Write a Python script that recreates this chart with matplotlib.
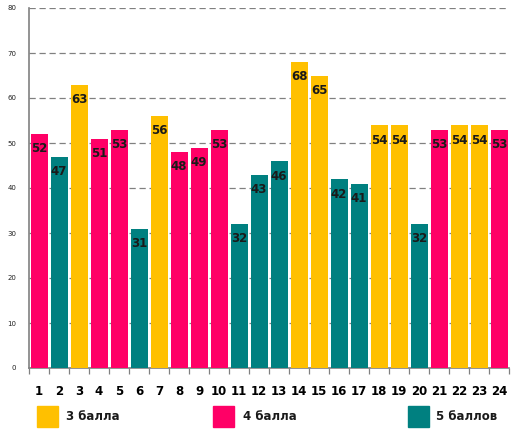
import matplotlib.pyplot as plt
from matplotlib.patches import Rectangle

# data
students = list(range(1, 25))
scores = [52, 47, 63, 51, 53, 31, 56, 48, 49, 53, 32, 43, 46, 68, 65, 42, 41, 54, 54, 32, 53, 54, 54, 53]
grades = [4, 5, 3, 4, 4, 5, 3, 4, 4, 4, 5, 5, 5, 3, 3, 5, 5, 3, 3, 5, 4, 3, 3, 4]
legend_labels = {3: '3 балла', 4: '4 балла', 5: '5 баллов'}
colors = {3: '#FFC000', 4: '#FF0066', 5: '#008080'}

W, H = 517, 437
fig = plt.figure(figsize=(W / 100, H / 100), dpi=100)
ax = fig.add_axes([29 / W, 69 / H, 480 / W, 360 / H])

bar_colors = [colors[g] for g in grades]
bars = ax.bar(students, scores, width=0.85, color=bar_colors, zorder=3)

for x, v in zip(students, scores):
    ax.annotate(str(v), (x, v), xytext=(0, -15), textcoords='offset pixels',
                ha='center', va='center', fontsize=8.5, fontweight='bold',
                color='#1a1a1a', zorder=4)

ax.set_xlim(0.5, 24.5)
ax.set_ylim(0, 80)
ax.set_yticks(range(0, 81, 10))
ax.tick_params(axis='y', length=0, labelsize=5, pad=9, labelcolor='#222222')
ax.yaxis.grid(True, linestyle=(0, (5, 3)), color='#808080', linewidth=0.9, zorder=0)

ax.set_xticks(students)
ax.set_xticklabels([str(s) for s in students], fontsize=8.5, fontweight='bold')
ax.set_xticks([s + 0.5 for s in range(0, 25)], minor=True)
ax.tick_params(axis='x', which='major', length=0, pad=12)
ax.tick_params(axis='x', which='minor', length=4, color='#808080', width=0.9)

for side in ['top', 'right']:
    ax.spines[side].set_visible(False)
ax.spines['left'].set_color('#808080')
ax.spines['bottom'].set_color('#808080')
ax.spines['left'].set_linewidth(1.2)
ax.spines['bottom'].set_linewidth(1.2)

# legend made of separate squares
legend_pos = {3: (37, 66), 4: (213, 243), 5: (408, 436)}
for g, (sx, tx) in legend_pos.items():
    fig.patches.append(Rectangle((sx / W, (H - 427) / H), 21 / W, 21 / H,
                                 transform=fig.transFigure, color=colors[g]))
    fig.text(tx / W, (H - 417) / H, legend_labels[g], fontsize=8.5,
             fontweight='bold', va='center', ha='left', color='#1a1a1a')

fig.savefig('out.png', dpi=100)
